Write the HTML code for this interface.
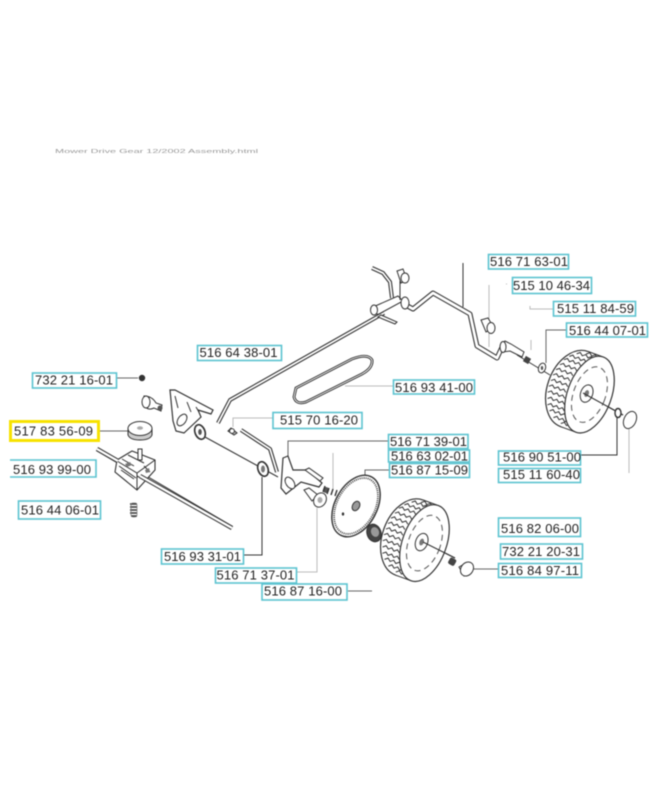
<!DOCTYPE html>
<html><head><meta charset="utf-8"><style>
html,body{margin:0;padding:0;background:#fff;width:652px;height:800px;overflow:hidden}
svg{display:block;filter:blur(.55px)}
.l text{font:13px "Liberation Sans",sans-serif;fill:#222}
.b{fill:#fff;stroke:#5cc3d0;stroke-width:1.6}
.p{fill:#fff;stroke:#333;stroke-width:1}
.n{fill:none;stroke:#333;stroke-width:1}
.r{fill:none;stroke:#333;stroke-width:4;stroke-linejoin:round;stroke-linecap:butt}
.w{fill:none;stroke:#fff;stroke-width:2.2;stroke-linejoin:round}
.c{fill:none;stroke:#666;stroke-width:1}
.d{fill:none;stroke:#bbb;stroke-width:1}
</style></head><body>
<svg width="652" height="800" viewBox="0 0 652 800" xmlns="http://www.w3.org/2000/svg">
<defs>
<path id="z" d="M0 0l3-2.4 3 2.4 3-2.4 3 2.4 3-2.4 3 2.4" fill="none" stroke="#333" stroke-width="1"/>
<g id="wheel">
<g transform="rotate(20)">
<ellipse cx="-7" cy="0" rx="27" ry="40" fill="#fff" stroke="#333" stroke-width="1.2"/>
<rect x="-7" y="-40" width="15" height="80" fill="#fff"/>
<path d="M-7-40H8M-7 40H8" stroke="#333" fill="none"/>
<use href="#z" x="-17" y="-34"/><use href="#z" x="-23" y="-29"/><use href="#z" x="-27" y="-24"/>
<use href="#z" x="-29" y="-18"/><use href="#z" x="-31" y="-12"/><use href="#z" x="-32" y="-6"/>
<use href="#z" x="-32" y="0"/><use href="#z" x="-32" y="6"/><use href="#z" x="-31" y="12"/>
<use href="#z" x="-29" y="18"/><use href="#z" x="-27" y="24"/><use href="#z" x="-23" y="29"/>
<use href="#z" x="-17" y="34"/><use href="#z" x="-8" y="-37"/><use href="#z" x="-8" y="37"/>
<ellipse cx="9" cy="0" rx="22" ry="40" fill="#fff" stroke="#333" stroke-width="1.2"/>
<ellipse cx="9" cy="0" rx="16" ry="29" fill="none" stroke="#555" stroke-width="1" stroke-dasharray="6 4"/>
<ellipse cx="6" cy="0" rx="6" ry="9" fill="#fff" stroke="#333"/>
<ellipse cx="6" cy="0" rx="2.2" ry="3.5" fill="#777"/>
</g>
</g>
</defs>
<rect width="652" height="800" fill="#fff"/>
<text x="55" y="153" font-family="Liberation Sans,sans-serif" font-size="5" fill="#999" textLength="203" lengthAdjust="spacingAndGlyphs">Mower Drive Gear 12/2002 Assembly.html</text>

<!-- connectors -->
<path class="c" d="M116 378H138"/>
<path class="c" d="M100 431H128"/>
<path class="c" style="stroke:#333" d="M262 477V555H244"/>
<path class="d" d="M273 418H233V427"/>
<path class="c" d="M388 441H288V457"/>
<path class="c" d="M389 470H365V476"/>
<path class="d" d="M333 453V490"/>
<path class="d" d="M317 508V572H297"/>
<path class="c" d="M348 591H372"/>
<path class="c" d="M473 569H498"/>
<path class="d" d="M345 386H393"/>
<path class="c" style="stroke:#333" d="M463 263V307"/>
<path class="d" d="M489 285V347"/>
<path class="d" d="M506 284h1M530 306V309H553"/>
<path class="d" d="M531 350V340"/>
<path class="c" d="M566 330H546V363"/>
<path class="c" style="stroke:#333" d="M581 455H617V416"/>
<path class="d" d="M629 427V473"/>

<!-- thin axle lines -->
<path class="n" d="M205 437L278 477M517 355L550 375M583 393L623 415M423 542L455 558"/>

<!-- belt -->
<path d="M296 388L352 359Q368 353 372 360Q373 368 362 374L306 402Q296 405 294 397Z" fill="none" stroke="#333" stroke-width="2.8"/>
<path d="M296 388L352 359Q368 353 372 360Q373 368 362 374L306 402Q296 405 294 397Z" fill="none" stroke="#fff" stroke-width=".9"/>

<!-- long control rod -->
<path class="r" d="M218 423L230 400L384 313"/><path class="w" style="stroke-width:1.8" d="M218 423L230 400L384 313"/>
<!-- short rod -->
<path class="r" d="M241 430L270 449L277 472"/><path class="w" style="stroke-width:1.8" d="M241 430L270 449L277 472"/>
<!-- main crank axle -->
<path class="r" style="stroke-width:5" d="M402 303L413 309L433 293L470 314L477 346L497 358L503 345"/>
<path class="w" style="stroke-width:2.8" d="M402 303L413 309L433 293L470 314L477 346L497 358L503 345"/>

<!-- top pieces -->
<path class="p" d="M373 307L398 296L403 301L379 314Q371 315 372 309Z"/>
<ellipse class="p" cx="374" cy="310" rx="3.5" ry="5"/>
<path class="p" d="M381 315L397 322L395 324L378 317Z"/>
<path class="r" d="M372 268L383 273L390 282L392 298"/>
<path class="w" style="stroke-width:1.8" d="M372 268L383 273L390 282L392 298"/>
<path class="p" d="M397 271L403 269L407 280L401 283Z"/>
<ellipse class="p" cx="405" cy="278" rx="4" ry="5"/>
<path class="n" d="M400 281V300"/>
<ellipse class="p" cx="405" cy="303" rx="4" ry="6"/>

<!-- bushing -->
<path class="p" d="M481 320L488 318L494 328L486 332Z"/>
<ellipse class="p" cx="491" cy="328" rx="4" ry="5.5"/>

<!-- right stub -->
<path class="p" d="M501 344L505 341L511 344L524 352L522 357L510 351L503 352Z"/>
<ellipse class="p" cx="503" cy="347" rx="3" ry="5.5"/>
<rect x="524" y="357" width="6" height="6" fill="#444" transform="rotate(30 527 360)"/>
<ellipse class="p" cx="542" cy="368" rx="3.5" ry="5" transform="rotate(20 542 368)"/>
<ellipse cx="542" cy="368" rx="1.2" ry="2" fill="#555"/>

<!-- wheels -->
<use href="#wheel" x="581" y="391.5"/>
<use href="#wheel" x="416" y="540"/>
<path class="n" d="M583 393L623 415M423 542L455 558"/>
<ellipse class="p" cx="618" cy="413" rx="3" ry="4.5" style="stroke-width:1.4"/>
<ellipse class="p" cx="630" cy="420" rx="6" ry="9" transform="rotate(25 630 420)"/>
<rect x="449" y="558" width="7" height="7" rx="2" fill="#444" transform="rotate(30 452 561)"/>
<path class="p" d="M459 567L466 563L472 569L464 576Z"/>
<ellipse class="p" cx="467" cy="569" rx="6" ry="7.5" transform="rotate(35 467 569)"/>

<!-- nut, disc -->
<circle cx="142" cy="378" r="3.2" fill="#333"/>
<path class="p" d="M128 429V435Q130 440 140 440Q150 440 152 435V429Z" style="fill:#ccc"/>
<ellipse class="p" cx="140" cy="428.5" rx="12" ry="7"/>
<ellipse cx="140" cy="428" rx="3" ry="1.8" fill="#aaa"/>

<!-- bolt left + bracket -->
<path class="p" d="M144 396Q152 396 156 403L162 405L161 411L154 408Q148 411 145 406Z"/>
<ellipse class="p" cx="146" cy="402" rx="4" ry="6"/>
<circle cx="160" cy="408" r="2.5" fill="#555"/>
<path class="p" d="M170 390L175 390L213 410L211 414L198 410L201 417L184 433L176 431L173 421Z" style="stroke-width:1.2"/>
<ellipse class="p" cx="182" cy="420" rx="4" ry="6.5" transform="rotate(35 182 420)"/>
<path class="n" d="M175 396L178 408M187 402L191 412M196 407L199 412"/>
<ellipse class="p" cx="200" cy="432" rx="5" ry="7.5" transform="rotate(-20 200 432)" style="stroke-width:1.6"/>
<ellipse cx="200" cy="432" rx="1.8" ry="3" fill="#555"/>

<!-- gearbox shaft + box -->
<path d="M97 449L232 528" stroke="#333" stroke-width="4.4" fill="none"/>
<path d="M97 449L232 528" stroke="#fff" stroke-width="2.4" fill="none"/>
<path class="p" d="M117 460L132 451L155 460L155 470L137 490L115 472Z" style="stroke-width:1.1"/>
<path class="n" d="M117 461L137 473L155 460M137 473V490M119 466L136 478M121 470L134 479M144 466L150 472M122 459L134 466M128 455L144 463"/>
<path class="p" d="M138 449h4v11h-4z"/>
<path class="n" d="M137 476L232 528" stroke-width="1"/>
<path d="M125 464l5-2 2 3-5 2zM145 470l4-2 1 4-4 1z" fill="#777"/>
<path d="M97 449L118 461" stroke="#333" stroke-width="4.4" fill="none"/>
<path d="M97 449L118 461" stroke="#fff" stroke-width="2.4" fill="none"/>
<path d="M140 476L232 528" stroke="#333" stroke-width="4.4" fill="none"/>
<path d="M140 476L232 528" stroke="#fff" stroke-width="2.4" fill="none"/>
<!-- spring -->
<path d="M130 504h7M130 507h7M130 510h7M130 513h7M131 516h6" stroke="#333" stroke-width="1.5"/>
<rect x="131" y="503" width="6" height="14" fill="none" stroke="#777" stroke-width=".7" rx="2"/>

<!-- washers mid -->
<ellipse class="p" cx="263" cy="469" rx="5" ry="7.5" transform="rotate(-20 263 469)" style="stroke-width:1.6"/>
<ellipse cx="263" cy="469" rx="2" ry="3.5" fill="#777"/>
<path class="p" d="M231 428L237 433L234 435L228 431Z" style="fill:#bbb"/>
<circle cx="232" cy="431" r="2.4" class="p"/>

<!-- bracket 2 -->
<path class="p" d="M283 458L288 456L293 470L307 470L322 483L319 487L301 482L286 494L281 488L282 473Z" style="stroke-width:1.2"/>
<ellipse class="p" cx="290" cy="483" rx="4" ry="6.5" transform="rotate(-35 290 483)"/>
<path class="p" d="M305 470L320 481L323 478L309 468Z"/>
<circle cx="326" cy="490" r="3" fill="#555"/>
<g stroke="#333" stroke-width="1.4"><path d="M325 486l-2 6M329 488l-2 6M333 489l-2 6M337 490l-2 6"/></g>
<path class="p" d="M304 490L309 488L318 495L312 501Z"/>
<ellipse class="p" cx="320" cy="500" rx="6" ry="7.5" transform="rotate(30 320 500)"/>
<ellipse cx="320" cy="500" rx="2.5" ry="3" fill="#aaa"/>

<!-- big gear disc -->
<ellipse cx="356" cy="506" rx="21" ry="33" transform="rotate(28 356 506)" fill="#fff" stroke="#333" stroke-width="1.4"/>
<ellipse cx="356" cy="506" rx="19" ry="30" transform="rotate(28 356 506)" fill="none" stroke="#444" stroke-width="1.8" stroke-dasharray="1 1"/>
<ellipse cx="356" cy="506" rx="3.5" ry="5" fill="#999" stroke="#333" transform="rotate(28 356 506)"/>
<ellipse cx="343" cy="514" rx="1.2" ry="1.6" fill="#333"/>
<ellipse cx="374" cy="533" rx="7" ry="9" fill="#444" stroke="#333" transform="rotate(-20 374 533)"/>
<ellipse cx="375" cy="532" rx="4" ry="5" fill="#999" transform="rotate(-20 375 532)"/>

<!-- yellow box -->
<rect x="10.5" y="421.5" width="88" height="19" fill="#fff" stroke="#f7e200" stroke-width="3"/>
<path d="M10 460H96V477H10" fill="#fff" stroke="#5cc3d0" stroke-width="1.6"/>

<g class="l">
<rect class="b" x="197.5" y="345.5" width="84" height="15"/><text x="199.5" y="357" textLength="78">516 64 38-01</text>
<rect class="b" x="32.5" y="373" width="84" height="15"/><text x="35" y="384.5" textLength="78">732 21 16-01</text>
<text x="14" y="435.5" textLength="79">517 83 56-09</text>
<text x="13" y="474" textLength="78">516 93 99-00</text>
<rect class="b" x="18.5" y="501" width="82" height="18"/><text x="21" y="514.5" textLength="78">516 44 06-01</text>
<rect class="b" x="273" y="412.5" width="89" height="16"/><text x="280" y="424.5" textLength="78">515 70 16-20</text>
<rect class="b" x="161.5" y="549" width="82" height="15"/><text x="164" y="561" textLength="77">516 93 31-01</text>
<rect class="b" x="215.5" y="568" width="81" height="15"/><text x="216.5" y="579.5" textLength="78">516 71 37-01</text>
<rect class="b" x="262" y="584" width="85" height="16"/><text x="264" y="595.5" textLength="78">516 87 16-00</text>
<rect class="b" x="488.5" y="254.5" width="80" height="14.5"/><text x="490" y="266" textLength="78">516 71 63-01</text>
<rect class="b" x="512.5" y="277.5" width="79" height="16"/><text x="513" y="290" textLength="77">515 10 46-34</text>
<rect class="b" x="553.5" y="301.5" width="82" height="14.5"/><text x="557" y="313" textLength="77">515 11 84-59</text>
<rect class="b" x="566.5" y="323" width="81" height="14"/><text x="569" y="335" textLength="77">516 44 07-01</text>
<rect class="b" x="393.5" y="380" width="81" height="14"/><text x="395" y="392" textLength="78">516 93 41-00</text>
<rect class="b" x="388.5" y="434.5" width="79.5" height="14"/><text x="390" y="446" textLength="77">516 71 39-01</text>
<rect class="b" x="388.5" y="450" width="81" height="12"/><text x="391" y="460.5" textLength="77">516 63 02-01</text>
<rect class="b" x="389.5" y="463.5" width="80" height="14"/><text x="391" y="474.5" textLength="77">516 87 15-09</text>
<rect class="b" x="498.5" y="451" width="82" height="14"/><text x="503" y="461.5" textLength="78">516 90 51-00</text>
<rect class="b" x="498.5" y="468.5" width="82" height="14"/><text x="503" y="479" textLength="77">515 11 60-40</text>
<rect class="b" x="498.5" y="518" width="82" height="18.5"/><text x="501" y="533" textLength="78">516 82 06-00</text>
<rect class="b" x="500.5" y="544" width="82" height="15"/><text x="502" y="556" textLength="78">732 21 20-31</text>
<rect class="b" x="498.5" y="563.5" width="83" height="14"/><text x="501" y="575" textLength="78">516 84 97-11</text>
</g>
</svg>
</body></html>
